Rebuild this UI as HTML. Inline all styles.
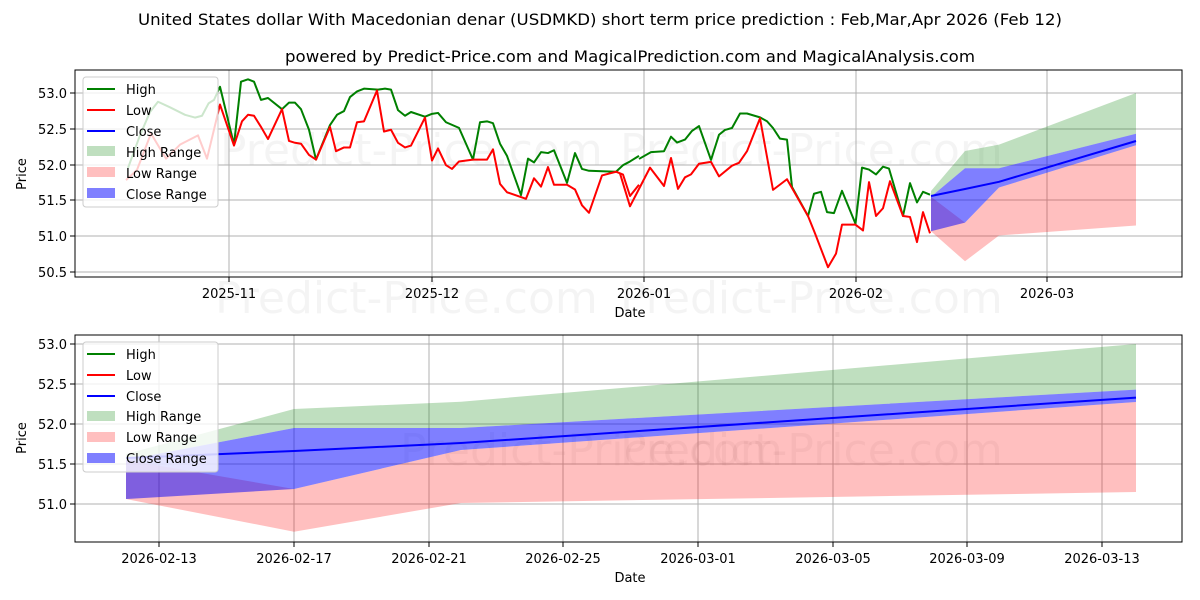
<!DOCTYPE html>
<html><head><meta charset="utf-8"><style>html,body{margin:0;padding:0;background:#fff}svg{display:block}text{font-family:"DejaVu Sans","Liberation Sans",sans-serif;fill:#000}</style></head>
<body>
<svg width="1200" height="600" viewBox="0 0 1200 600" xmlns="http://www.w3.org/2000/svg">
<rect width="1200" height="600" fill="#fff"/>
<text x="600" y="25" font-size="16" text-anchor="middle" textLength="924" lengthAdjust="spacingAndGlyphs">United States dollar With Macedonian denar (USDMKD) short term price prediction : Feb,Mar,Apr 2026 (Feb 12)</text>
<text x="630" y="62" font-size="16" text-anchor="middle" textLength="690" lengthAdjust="spacingAndGlyphs">powered by Predict-Price.com and MagicalPrediction.com and MagicalAnalysis.com</text>

<!-- watermarks -->
<g font-size="44">
<text x="220" y="165" style="fill:#000;fill-opacity:0.045">Predict-Price.com</text>
<text x="620" y="165" style="fill:#000;fill-opacity:0.045">Predict-Price.com</text>
<text x="215" y="313" style="fill:#000;fill-opacity:0.045">Predict-Price.com</text>
<text x="620" y="313" style="fill:#000;fill-opacity:0.045">Predict-Price.com</text>
<text x="400" y="465" style="fill:#000;fill-opacity:0.045">Predict-Price.com</text>
<text x="620" y="465" style="fill:#000;fill-opacity:0.045">Predict-Price.com</text>
</g>

<!-- TOP AXES -->
<g stroke="#b0b0b0" stroke-width="1">
<line x1="229" y1="70" x2="229" y2="277"/><line x1="432" y1="70" x2="432" y2="277"/><line x1="644" y1="70" x2="644" y2="277"/><line x1="856" y1="70" x2="856" y2="277"/><line x1="1047" y1="70" x2="1047" y2="277"/>
<line x1="75" y1="93" x2="1182" y2="93"/><line x1="75" y1="129" x2="1182" y2="129"/><line x1="75" y1="165" x2="1182" y2="165"/><line x1="75" y1="200" x2="1182" y2="200"/><line x1="75" y1="236" x2="1182" y2="236"/><line x1="75" y1="272" x2="1182" y2="272"/>
</g>
<polygon fill="#008000" fill-opacity="0.25" points="931,191 965,151 999,144.6 1136,93 1136,133.8 999,168.2 965,168.2 931,196.8"/>
<polygon fill="#ff0000" fill-opacity="0.25" points="931,196.8 965,222.6 999,187.5 1136,145.3 1136,225.5 999,235.5 965,261.3 931,231.2"/>
<polygon fill="#0000ff" fill-opacity="0.5" points="931,196.8 965,168.2 999,168.2 1136,133.8 1136,145.3 999,187.5 965,222.6 931,231.2"/>

<g fill="none" stroke-width="2" stroke-linejoin="round">
<g transform="matrix(1,0,0,0.9333,0,4.667)">
<polyline vector-effect="non-scaling-stroke" stroke="#008000" points="128,175 140,140 150,115 158,104 170,110 185,118 195,121 202,119 208.6,105.7 214,102 220,88 234,150 241,82.5 248,80 254,82.5 261,102 268,100 282,112 289,105 295,105 301,112 309,134 316,166 330,129 337,118 344,114 350,99 357,93 364,90 378,91 385,90 391,91 398,113 405,119 411,115 425,120 432,117 438,116 446,126 459,132 473,166 480,126 487,125 493,127 500,149 507,162 521,204 528,165 534,169 541,158 548,159 554,156 567,191 575,159 582,176 589,178 616,179 623,172 630,168 639,162"/>
<polyline vector-effect="non-scaling-stroke" stroke="#ff0000" points="126,188 137,177 151,138 166,165 180,150 198,140 207,165 220,107 234,151 242,125 248,118 254,119 261,131 268,144 282,112 289,146 295,148 301,149 309,161 316,166 330,131 336,157 344,153 350,153 357,126 364,125 377,92 384,136 391,134 398,148 405,153 411,151 425,121 432,167 438,154 446,172 452,176 459,168 473,166 487,166 493,155 500,192 507,201 526,208 534,186 541,195 548,174 554,193 567,193 575,198 582,215 589,223 602,183 616,179 623,182 630,205 639,193"/>
</g>
<g transform="matrix(1,0,0,0.9667,0,2.333)">
<polyline vector-effect="non-scaling-stroke" stroke="#008000" points="639,162 651,155 664,154 671,139 677,145 685,142 692,133 699,128 711,163 719,137 725,132 732,130 740,115 747,115 760,119 767,123 773,130 780,141 787,142 792,191 808,221 814,198 821,196 827,217 834,218 842,195 855.5,229 862,171 869,173 876,178 883,170 889,172 903,221 910,187 917,207 923,196 930,199"/>
<polyline vector-effect="non-scaling-stroke" stroke="#ff0000" points="620,177 630,211 650,171 664,190 671,161 678,193 685,181 691,178 699,167 711,165 719,180 732,169 739,166 747,154 760,120 773,194 787,183 808,221 815,239 828,274 836,260 842,230 855.5,230 863,236 869,186 876,221 883,213 890,185 903,221 910,222 917,248 923,217 930,239"/>
</g>
<polyline stroke="#0000ff" points="931,196 965,189 999,181.8 1136,141"/>
</g>
<rect x="75" y="70" width="1107" height="207" fill="none" stroke="#000" stroke-width="1"/>
<g stroke="#000"><line x1="229" y1="277" x2="229" y2="282"/><line x1="432" y1="277" x2="432" y2="282"/><line x1="644" y1="277" x2="644" y2="282"/><line x1="856" y1="277" x2="856" y2="282"/><line x1="1047" y1="277" x2="1047" y2="282"/>
<line x1="70" y1="93" x2="75" y2="93"/><line x1="70" y1="129" x2="75" y2="129"/><line x1="70" y1="165" x2="75" y2="165"/><line x1="70" y1="200" x2="75" y2="200"/><line x1="70" y1="236" x2="75" y2="236"/><line x1="70" y1="272" x2="75" y2="272"/></g>
<g font-size="13" text-anchor="middle">
<text x="229" y="298">2025-11</text><text x="432" y="298">2025-12</text><text x="644" y="298">2026-01</text><text x="856" y="298">2026-02</text><text x="1047" y="298">2026-03</text>
<text x="630" y="317">Date</text>
</g>
<g font-size="13" text-anchor="end">
<text x="67" y="98">53.0</text><text x="67" y="134">52.5</text><text x="67" y="170">52.0</text><text x="67" y="205">51.5</text><text x="67" y="241">51.0</text><text x="67" y="277">50.5</text>
</g>
<text x="26" y="174" font-size="13" text-anchor="middle" transform="rotate(-90 26 174)">Price</text>

<rect x="83" y="77" width="135" height="130" rx="3" fill="#fff" fill-opacity="0.8" stroke="#ccc"/>
<g stroke-width="2"><line x1="87" y1="89" x2="115" y2="89" stroke="#008000"/><line x1="87" y1="110" x2="115" y2="110" stroke="#ff0000"/><line x1="87" y1="131" x2="115" y2="131" stroke="#0000ff"/></g>
<rect x="87" y="146" width="28" height="10" fill="#008000" fill-opacity="0.25"/>
<rect x="87" y="167" width="28" height="10" fill="#ff0000" fill-opacity="0.25"/>
<rect x="87" y="188" width="28" height="10" fill="#0000ff" fill-opacity="0.5"/>
<g font-size="13"><text x="126" y="94">High</text><text x="126" y="115">Low</text><text x="126" y="136">Close</text><text x="126" y="157">High Range</text><text x="126" y="178">Low Range</text><text x="126" y="199">Close Range</text></g>

<!-- BOTTOM AXES -->
<g stroke="#b0b0b0" stroke-width="1">
<line x1="159" y1="335" x2="159" y2="542"/><line x1="294" y1="335" x2="294" y2="542"/><line x1="429" y1="335" x2="429" y2="542"/><line x1="563" y1="335" x2="563" y2="542"/><line x1="698" y1="335" x2="698" y2="542"/><line x1="833" y1="335" x2="833" y2="542"/><line x1="967" y1="335" x2="967" y2="542"/><line x1="1102" y1="335" x2="1102" y2="542"/>
<line x1="75" y1="344" x2="1182" y2="344"/><line x1="75" y1="384" x2="1182" y2="384"/><line x1="75" y1="424" x2="1182" y2="424"/><line x1="75" y1="464" x2="1182" y2="464"/><line x1="75" y1="504" x2="1182" y2="504"/>
</g>
<polygon fill="#008000" fill-opacity="0.25" points="126,454 294,409 461,401.7 1136,344 1136,389.6 461,428 294,428 126,460"/>
<polygon fill="#ff0000" fill-opacity="0.25" points="126,460 294,489 461,450 1136,402 1136,492 461,503 294,531.7 126,499"/>
<polygon fill="#0000ff" fill-opacity="0.5" points="126,460 294,428 461,428 1136,389.6 1136,402 461,450 294,489 126,499"/>
<polyline fill="none" stroke="#0000ff" stroke-width="2" points="126,458 294,451 461,443 1136,397.6"/>
<rect x="75" y="335" width="1107" height="207" fill="none" stroke="#000" stroke-width="1"/>
<g stroke="#000"><line x1="159" y1="542" x2="159" y2="547"/><line x1="294" y1="542" x2="294" y2="547"/><line x1="429" y1="542" x2="429" y2="547"/><line x1="563" y1="542" x2="563" y2="547"/><line x1="698" y1="542" x2="698" y2="547"/><line x1="833" y1="542" x2="833" y2="547"/><line x1="967" y1="542" x2="967" y2="547"/><line x1="1102" y1="542" x2="1102" y2="547"/>
<line x1="70" y1="344" x2="75" y2="344"/><line x1="70" y1="384" x2="75" y2="384"/><line x1="70" y1="424" x2="75" y2="424"/><line x1="70" y1="464" x2="75" y2="464"/><line x1="70" y1="504" x2="75" y2="504"/></g>
<g font-size="13" text-anchor="middle">
<text x="159" y="563">2026-02-13</text><text x="294" y="563">2026-02-17</text><text x="429" y="563">2026-02-21</text><text x="563" y="563">2026-02-25</text><text x="698" y="563">2026-03-01</text><text x="833" y="563">2026-03-05</text><text x="967" y="563">2026-03-09</text><text x="1102" y="563">2026-03-13</text>
<text x="630" y="582">Date</text>
</g>
<g font-size="13" text-anchor="end">
<text x="67" y="349">53.0</text><text x="67" y="389">52.5</text><text x="67" y="429">52.0</text><text x="67" y="469">51.5</text><text x="67" y="509">51.0</text>
</g>
<text x="26" y="438" font-size="13" text-anchor="middle" transform="rotate(-90 26 438)">Price</text>

<rect x="83" y="342" width="135" height="130" rx="3" fill="#fff" fill-opacity="0.8" stroke="#ccc"/>
<g stroke-width="2"><line x1="87" y1="354" x2="115" y2="354" stroke="#008000"/><line x1="87" y1="375" x2="115" y2="375" stroke="#ff0000"/><line x1="87" y1="396" x2="115" y2="396" stroke="#0000ff"/></g>
<rect x="87" y="411" width="28" height="10" fill="#008000" fill-opacity="0.25"/>
<rect x="87" y="432" width="28" height="10" fill="#ff0000" fill-opacity="0.25"/>
<rect x="87" y="453" width="28" height="10" fill="#0000ff" fill-opacity="0.5"/>
<g font-size="13"><text x="126" y="359">High</text><text x="126" y="380">Low</text><text x="126" y="401">Close</text><text x="126" y="421">High Range</text><text x="126" y="442">Low Range</text><text x="126" y="463">Close Range</text></g>
</svg>
</body></html>
